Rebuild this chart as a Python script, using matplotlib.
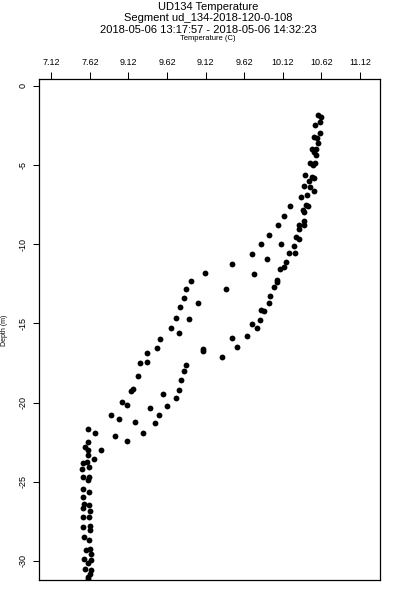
import matplotlib
matplotlib.use("Agg")
import matplotlib.pyplot as plt

plt.rcParams['font.family'] = ['Liberation Sans', 'DejaVu Sans']

# Profile samples: temperature (C) and depth (m)
temperature = [
    10.57, 10.61, 10.60, 10.54, 10.60, 10.52, 10.56, 10.57, 10.50, 10.55,
    10.52, 10.55, 10.47, 10.51, 10.54, 10.41, 10.50, 10.53, 10.46, 10.39,
    10.47, 10.52, 10.35, 10.43, 10.21, 10.42, 10.44, 10.38, 10.40, 10.14,
    10.06, 10.33, 10.40, 10.39, 10.33, 9.94, 10.29, 10.33, 9.84, 10.10,
    10.27, 9.72, 10.20, 10.28, 9.91, 10.16, 9.46, 10.14, 10.08, 9.75,
    9.11, 10.05, 10.05, 8.93, 10.01, 9.38, 8.87, 9.96, 8.84, 9.94,
    9.02, 8.79, 9.84, 9.88, 8.74, 8.91, 9.82, 9.72, 9.79, 8.67,
    8.78, 8.53, 9.46, 9.65, 8.49, 9.52, 9.08, 8.36, 8.27, 8.36,
    8.24, 8.15, 8.18, 8.04, 8.10, 7.90, 8.00, 7.60, 7.69, 7.59,
    7.56, 7.60, 7.60, 7.77, 7.67, 7.58, 7.53, 7.52, 7.61, 7.53,
    7.61, 7.60, 7.53, 7.61, 7.53, 7.54, 7.61, 7.53, 7.62, 7.53,
    7.61, 7.53, 7.62, 7.62, 7.55, 7.61, 7.57, 7.62, 7.63, 7.55,
    7.63, 7.60, 7.56, 7.63, 7.62, 7.60, 7.59, 9.09, 9.33, 8.87,
    8.84, 8.80, 8.78, 8.74, 8.57, 8.62, 8.40, 8.52, 8.46, 8.20,
    8.31, 7.95, 8.10,
]
depth = [
    -1.81, -1.98, -2.27, -2.48, -2.95, -3.24, -3.28, -3.62, -3.96, -4.00,
    -4.17, -4.34, -4.88, -4.97, -4.85, -5.60, -5.73, -5.81, -5.98, -6.32,
    -6.36, -6.61, -6.99, -6.90, -7.58, -7.50, -7.58, -7.83, -7.96, -8.21,
    -8.80, -8.76, -8.51, -8.80, -9.05, -9.39, -9.56, -9.65, -9.98, -9.98,
    -10.11, -10.61, -10.57, -10.57, -10.95, -11.12, -11.24, -11.45, -11.58, -11.88,
    -11.79, -12.26, -12.38, -12.30, -12.72, -12.80, -12.84, -13.27, -13.39, -13.73,
    -13.73, -13.98, -14.15, -14.23, -14.66, -14.70, -14.78, -15.03, -15.29, -15.29,
    -15.62, -16.00, -15.92, -15.79, -16.55, -16.47, -16.59, -16.89, -17.48, -17.44,
    -18.32, -19.25, -19.16, -19.96, -20.13, -20.80, -21.02, -21.69, -21.94, -22.49,
    -22.79, -22.99, -23.29, -22.99, -23.58, -23.75, -23.83, -24.18, -24.09, -24.68,
    -24.68, -24.89, -25.44, -25.65, -25.98, -26.41, -26.45, -26.66, -26.83, -27.25,
    -27.25, -27.88, -27.80, -28.05, -28.47, -28.68, -29.31, -29.27, -29.56, -29.90,
    -29.94, -30.11, -30.49, -30.57, -30.83, -31.00, -31.12, -16.76, -17.14, -17.64,
    -17.98, -18.57, -19.20, -19.71, -19.46, -20.21, -20.34, -20.76, -21.31, -21.23,
    -21.90, -22.11, -22.44,
]

x_ticks = [7.12, 7.62, 8.12, 8.62, 9.12, 9.62, 10.12, 10.62, 11.12]
x_tick_labels = ['7.12', '7.62', '9.12', '9.62', '9.12', '9.62', '10.12', '10.62', '11.12']
y_ticks = [0, -5, -10, -15, -20, -25, -30]

fig = plt.figure(figsize=(4, 6), dpi=100)
ax = fig.add_axes([0.0975, 0.0333, 0.8525, 0.835])

ax.plot(temperature, depth, 'o', color='black', markersize=4.2, markeredgewidth=0)

ax.set_xlim(6.961, 11.379)
ax.set_ylim(-31.21, 0.44)

ax.xaxis.tick_top()
ax.set_xticks(x_ticks)
ax.set_xticklabels(x_tick_labels, fontsize=6.5)
ax.set_yticks(y_ticks)
ax.set_yticklabels([str(t) for t in y_ticks], fontsize=6.5, rotation=90, va='center')
ax.tick_params(axis='x', length=5, width=0.75, pad=4)
ax.tick_params(axis='y', length=4.5, width=0.75, pad=4)
for s in ax.spines.values():
    s.set_linewidth(0.9)

# titles, placed in pixel terms to sit like the reference
fig.text(0.52, 1 - 7 / 600, 'UD134 Temperature', ha='center', va='center', fontsize=8)
fig.text(0.52, 1 - 18 / 600, 'Segment ud_134-2018-120-0-108', ha='center', va='center', fontsize=8)
fig.text(0.52, 1 - 30 / 600, '2018-05-06 13:17:57 - 2018-05-06 14:32:23', ha='center', va='center', fontsize=8)
fig.text(0.52, 1 - 39 / 600, 'Temperature (C)', ha='center', va='center', fontsize=5.5)
fig.text(5 / 400, 1 - 330 / 600, 'Depth (m)', ha='center', va='center', fontsize=5, rotation=90)

fig.savefig('out.png', dpi=100)
